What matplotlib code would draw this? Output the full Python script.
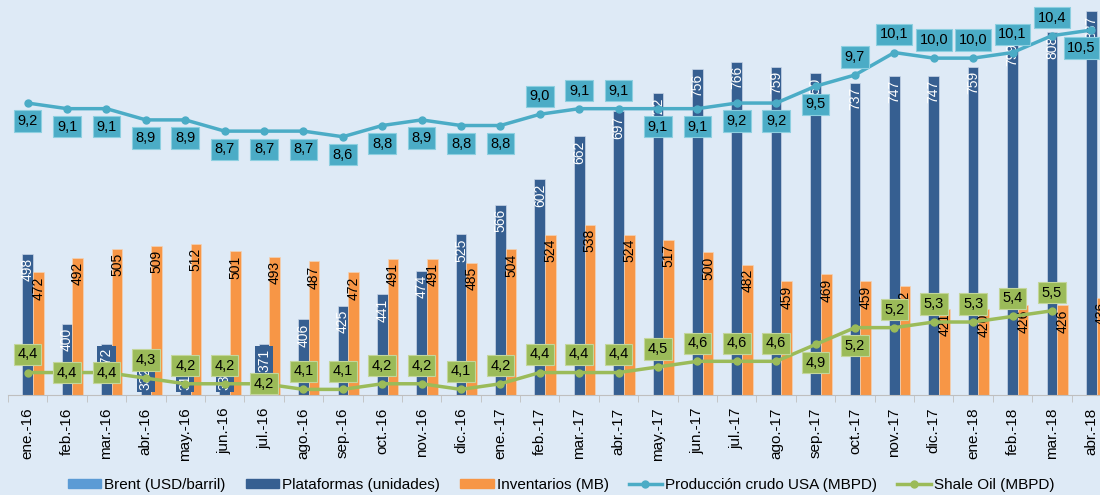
import matplotlib
matplotlib.use('Agg')
import matplotlib.pyplot as plt
from matplotlib.patches import Patch
from matplotlib.lines import Line2D
import numpy as np

plt.rcParams['font.family'] = ['Liberation Sans', 'DejaVu Sans']

meses = ['ene.-16', 'feb.-16', 'mar.-16', 'abr.-16', 'may.-16', 'jun.-16', 'jul.-16',
         'ago.-16', 'sep.-16', 'oct.-16', 'nov.-16', 'dic.-16', 'ene.-17', 'feb.-17',
         'mar.-17', 'abr.-17', 'may.-17', 'jun.-17', 'jul.-17', 'ago.-17', 'sep.-17',
         'oct.-17', 'nov.-17', 'dic.-17', 'ene.-18', 'feb.-18', 'mar.-18', 'abr.-18']
plataformas = [498, 400, 372, 332, 316, 330, 371, 406, 425, 441, 474, 525, 566, 602,
               662, 697, 722, 756, 766, 759, 750, 737, 747, 747, 759, 799, 808, 837]
inventarios = [472, 492, 505, 509, 512, 501, 493, 487, 472, 491, 491, 485, 504, 524,
               538, 524, 517, 500, 482, 459, 469, 459, 452, 421, 420, 426, 426, 436]
produccion = [9.2, 9.1, 9.1, 8.9, 8.9, 8.7, 8.7, 8.7, 8.6, 8.8, 8.9, 8.8, 8.8, 9.0,
              9.1, 9.1, 9.1, 9.1, 9.2, 9.2, 9.5, 9.7, 10.1, 10.0, 10.0, 10.1, 10.4, 10.5]
shale = [4.4, 4.4, 4.4, 4.3, 4.2, 4.2, 4.2, 4.1, 4.1, 4.2, 4.2, 4.1, 4.2, 4.4,
         4.4, 4.4, 4.5, 4.6, 4.6, 4.6, 4.9, 5.2, 5.2, 5.3, 5.3, 5.4, 5.5, np.nan]
# label placement: a = above, b = below, c = on the point
pos_prod = list('bbbbbbbbbbbbbaaabbbbbaaaaaab')
pos_shale = list('accaaacaaaaaaaaaaaaabbaaaaa')

c_brent = '#5B9BD5'
c_plat = '#365F91'
c_inv = '#F79646'
c_prod = '#4BACC6'
c_shale = '#9BBB59'
bg = '#DEEAF6'

x = np.arange(len(meses))
w = 0.27

fig = plt.figure(figsize=(11, 4.95), dpi=100, facecolor=bg)
ax = fig.add_axes([8/1100, 1 - 395/495, 1103/1100, 393/495])
ax.set_facecolor(bg)
ax.bar(x, plataformas, w, color=c_plat, edgecolor='#C9D6E8', linewidth=0.5, zorder=2)
ax.bar(x + w, inventarios, w, color=c_inv, edgecolor='#F3D2B5', linewidth=0.5, zorder=2)
ax.set_ylim(300, 850)
ax.set_xlim(-0.5, len(meses) - 0.5)

for i, v in enumerate(plataformas):
    box = dict(boxstyle='square,pad=0.15', fc=c_plat, ec='none') if v < 375 else None
    ax.annotate(str(v), (x[i], max(v, 345)), xytext=(0, -3), textcoords='offset points',
                rotation=90, ha='center', va='top', color='white', fontsize=10, zorder=3,
                bbox=box)
for i, v in enumerate(inventarios):
    ax.annotate(str(v), (x[i] + w, v), xytext=(0, -3), textcoords='offset points',
                rotation=90, ha='center', va='top', color='black', fontsize=10, zorder=3)

for s in ['top', 'left', 'right']:
    ax.spines[s].set_visible(False)
ax.spines['bottom'].set_color('#BFBFBF')
ax.set_yticks([])
ax.set_xticks(x)
ax.set_xticklabels(meses, rotation=90, fontsize=11)
ax.tick_params(axis='x', which='major', length=0, pad=9)
ax.set_xticks(np.arange(len(meses) + 1) - 0.5, minor=True)
ax.tick_params(axis='x', which='minor', length=5, color='#BFBFBF')

ax2 = ax.twinx()
ax2.set_ylim(4, 11)
ax2.set_yticks([])
for s in ['top', 'left', 'right', 'bottom']:
    ax2.spines[s].set_visible(False)
ax2.plot(x, produccion, color=c_prod, lw=2.5, marker='o', ms=5, zorder=3)
ax2.plot(x, shale, color=c_shale, lw=2.5, marker='o', ms=5, zorder=3)

off = {'a': 13, 'b': -13, 'c': 0}
for i, v in enumerate(produccion):
    dx = -7 if i == len(produccion) - 1 else 0
    ax2.annotate(f'{v:.1f}'.replace('.', ','), (x[i], v), xytext=(dx, off[pos_prod[i]]),
                 textcoords='offset points', ha='center', va='center', fontsize=10.5, zorder=4,
                 bbox=dict(boxstyle='square,pad=0.25', fc=c_prod, ec='#8CCFE0', lw=0.8))
for i, v in enumerate(shale):
    if np.isnan(v):
        continue
    ax2.annotate(f'{v:.1f}'.replace('.', ','), (x[i], v), xytext=(0, off[pos_shale[i]]),
                 textcoords='offset points', ha='center', va='center', fontsize=10.5, zorder=4,
                 bbox=dict(boxstyle='square,pad=0.25', fc=c_shale, ec='#C3D69B', lw=0.8))

handles = [Patch(color=c_brent), Patch(color=c_plat), Patch(color=c_inv),
           Line2D([], [], color=c_prod, lw=2.5, marker='o', ms=5),
           Line2D([], [], color=c_shale, lw=2.5, marker='o', ms=5)]
labels = ['Brent (USD/barril)', 'Plataformas (unidades)', 'Inventarios (MB)',
          'Producción crudo USA (MBPD)', 'Shale Oil (MBPD)']
fig.legend(handles, labels, loc='center', bbox_to_anchor=(0.51, 10/495), ncol=5, frameon=False,
           fontsize=11, handlelength=2.2, handleheight=0.6, handletextpad=0.2, columnspacing=1.3)

fig.savefig('out.png', dpi=100, facecolor=bg)
